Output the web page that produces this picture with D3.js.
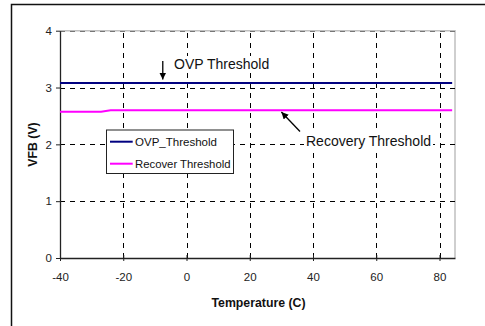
<!DOCTYPE html>
<html>
<head>
<meta charset="utf-8">
<script src="https://cdn.jsdelivr.net/npm/d3@7"></script>
<style>
  body { margin: 0; background: #fff; }
  svg { font-family: "Liberation Sans", Arial, sans-serif; }
</style>
</head>
<body>
<div id="chart"></div>
<script>
const temps = [-40, -27, -24, 0, 25, 50, 84];
const ovpThreshold = [3.08, 3.08, 3.08, 3.08, 3.08, 3.08, 3.08];
const recoverThreshold = [2.575, 2.575, 2.60, 2.60, 2.60, 2.60, 2.60];
const seriesNames = ['OVP_Threshold', 'Recover Threshold'];
const xTicks = [-40, -20, 0, 20, 40, 60, 80];
const yTicks = [0, 1, 2, 3, 4];

const width = 485;
const height = 326;
const margin = { left: 60, right: 30, top: 30.7, bottom: 68 };

const svg = d3.select('#chart')
  .append('svg')
  .attr('width', width)
  .attr('height', height);

// outer frame
svg.append('rect')
  .attr('x', 11.5).attr('y', 4.5)
  .attr('width', 500).attr('height', 400)
  .attr('fill', 'none')
  .attr('stroke', '#111')
  .attr('stroke-width', 1.5);

const xScale = d3.scaleLinear()
  .domain([-40, 84.9])
  .range([margin.left, width - margin.right]);

const yScale = d3.scaleLinear()
  .domain([0, 4])
  .range([height - margin.bottom, margin.top]);

const x0 = xScale.range()[0], x1 = xScale.range()[1];
const y0 = yScale.range()[0], y1 = yScale.range()[1];

// plot area border (top and right, light gray)
svg.append('path')
  .attr('d', `M${x0},${y1}H${x1}V${y0}`)
  .attr('fill', 'none')
  .attr('stroke', '#c0c0c0')
  .attr('stroke-width', 1.5);

// gridlines
svg.append('g')
  .selectAll('line')
  .data(xTicks.filter(d => d > -40))
  .enter()
  .append('line')
  .attr('x1', d => Math.round(xScale(d)) + 0.5)
  .attr('x2', d => Math.round(xScale(d)) + 0.5)
  .attr('y1', y0)
  .attr('y2', y1)
  .attr('stroke', '#000')
  .attr('stroke-dasharray', '5,5');

svg.append('g')
  .selectAll('line')
  .data(yTicks.filter(d => d > 0))
  .enter()
  .append('line')
  .attr('x1', x0)
  .attr('x2', x1)
  .attr('y1', d => Math.round(yScale(d)) + 0.5)
  .attr('y2', d => Math.round(yScale(d)) + 0.5)
  .attr('stroke', d => d === 4 ? '#777' : '#000')
  .attr('stroke-dasharray', '5,5');

// axes
const fmt = d => String(d);
const xAxis = d3.axisBottom(xScale).tickValues(xTicks).tickSize(3).tickSizeOuter(0).tickFormat(fmt);
const yAxis = d3.axisLeft(yScale).tickValues(yTicks).tickSize(4).tickSizeOuter(0).tickFormat(fmt);

const gx = svg.append('g')
  .attr('transform', `translate(0, ${y0})`)
  .call(xAxis);
gx.selectAll('.tick line').attr('y1', -3).attr('y2', 3);

const gy = svg.append('g')
  .attr('transform', `translate(${x0}, 0)`)
  .call(yAxis);

[gx, gy].forEach(g => {
  g.select('.domain').attr('stroke', '#222').attr('stroke-width', 1.3);
  g.selectAll('.tick line').attr('stroke', '#222');
  g.selectAll('text')
    .attr('font-family', '"Liberation Sans", Arial, sans-serif')
    .attr('font-size', 11.5)
    .attr('fill', '#222');
});
gx.selectAll('text').attr('dy', '1.5em');
gy.selectAll('text').attr('x', -8);

// series lines
const line = d3.line()
  .x((d, i) => xScale(temps[i]))
  .y(d => yScale(d));

const colors = ['#000080', '#ff00ff'];

[ovpThreshold, recoverThreshold].forEach((s, i) => {
  svg.append('path')
    .datum(s)
    .attr('fill', 'none')
    .attr('stroke', colors[i])
    .attr('stroke-width', 2)
    .attr('d', line);
});

// arrow marker
svg.append('defs').append('marker')
  .attr('id', 'arrow')
  .attr('viewBox', '0 0 10 10')
  .attr('refX', 10).attr('refY', 5)
  .attr('markerWidth', 7).attr('markerHeight', 7)
  .attr('markerUnits', 'userSpaceOnUse')
  .attr('orient', 'auto')
  .append('path')
  .attr('d', 'M0,0L10,5L0,10z')
  .attr('fill', '#000');

// annotations
const note = (txt, x, y) => {
  const t = svg.append('text')
    .attr('x', x).attr('y', y)
    .attr('font-size', 14)
    .attr('fill', '#111')
    .text(txt);
  const b = t.node().getBBox();
  svg.insert('rect', () => t.node())
    .attr('x', b.x - 2).attr('y', b.y)
    .attr('width', b.width + 4).attr('height', b.height)
    .attr('fill', '#fff');
};
note('OVP Threshold', 174, 69);
note('Recovery Threshold', 306, 145.5);

svg.append('line')
  .attr('x1', xScale(-7.5)).attr('y1', 61)
  .attr('x2', xScale(-7.5)).attr('y2', 79.5)
  .attr('stroke', '#000').attr('stroke-width', 1.3)
  .attr('marker-end', 'url(#arrow)');

svg.append('line')
  .attr('x1', 300).attr('y1', 131.5)
  .attr('x2', xScale(30)).attr('y2', 112)
  .attr('stroke', '#000').attr('stroke-width', 1.3)
  .attr('marker-end', 'url(#arrow)');

// legend
const legend = svg.append('g');
legend.append('rect')
  .attr('x', 106.5).attr('y', 130)
  .attr('width', 127).attr('height', 43.5)
  .attr('fill', '#fff')
  .attr('stroke', '#222')
  .attr('stroke-width', 1);

seriesNames.forEach((name, i) => {
  const ly = 141.7 + i * 22;
  legend.append('line')
    .attr('x1', 110).attr('x2', 132.7)
    .attr('y1', ly).attr('y2', ly)
    .attr('stroke', colors[i])
    .attr('stroke-width', 2);
  legend.append('text')
    .attr('x', 135).attr('y', ly)
    .attr('dy', '0.35em')
    .attr('font-size', 11.5)
    .attr('fill', '#111')
    .attr('textLength', i === 0 ? 82 : 95.5)
    .attr('lengthAdjust', 'spacingAndGlyphs')
    .text(name);
});

// axis titles
svg.append('text')
  .attr('x', 258.5)
  .attr('y', 307)
  .attr('text-anchor', 'middle')
  .attr('font-size', 12.3)
  .attr('font-weight', 'bold')
  .attr('fill', '#111')
  .text('Temperature (C)');

svg.append('text')
  .attr('transform', `translate(36.5, 144.5) rotate(-90)`)
  .attr('text-anchor', 'middle')
  .attr('font-size', 12.3)
  .attr('font-weight', 'bold')
  .attr('fill', '#111')
  .text('VFB (V)');
</script>
</body>
</html>
